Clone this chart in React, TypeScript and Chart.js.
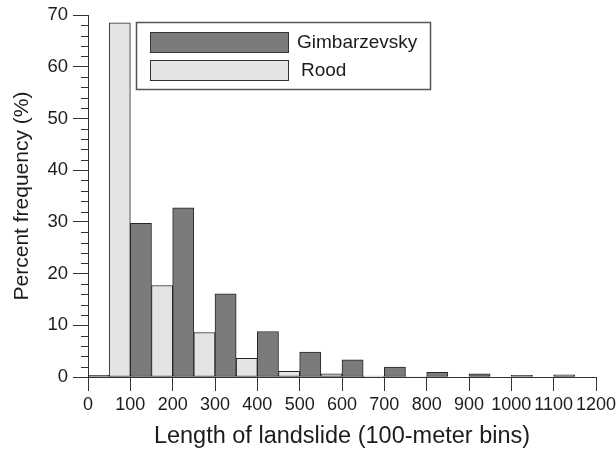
import { useEffect, useRef } from 'react';
import { Chart, registerables } from 'chart.js';

Chart.register(...registerables);

// ---- data ----
const binCenters = [50, 150, 250, 350, 450, 550, 650, 750, 850, 950, 1050, 1150];
const gimbarzevsky = [0.3, 29.7, 32.7, 16.1, 8.8, 4.8, 3.3, 1.9, 0.9, 0.6, 0.3, 0.4];
const rood = [68.5, 17.7, 8.6, 3.6, 1.1, 0.6, 0.2, 0.1, 0, 0, 0, 0];
const seriesNames = ['Gimbarzevsky', 'Rood'];
const xRange = [0, 1200];
const xStep = 100;
const yRange = [0, 70];
const yStep = 10;
const yMinorStep = 2;
const xTitle = 'Length of landslide (100-meter bins)';
const yTitle = 'Percent frequency (%)';

const FONT = "'Liberation Sans', Arial, sans-serif";
const INK = '#1c1c1c';

const minorTicks = {
  id: 'minorTicks',
  afterDraw(chart: any) {
    const ys = chart.scales.y;
    const ctx = chart.ctx;
    const x = chart.chartArea.left;
    ctx.save();
    ctx.strokeStyle = '#333';
    ctx.lineWidth = 1;
    ctx.beginPath();
    for (let v = ys.min; v <= ys.max + 1e-9; v += yMinorStep) {
      if (Math.abs(v % yStep) < 1e-9) continue;
      const y = Math.round(ys.getPixelForValue(v)) + 0.5;
      ctx.moveTo(x - 7, y);
      ctx.lineTo(x, y);
    }
    ctx.stroke();
    ctx.restore();
  },
};

const boxLegend = {
  id: 'boxLegend',
  afterDraw(chart: any) {
    const ctx = chart.ctx;
    const ds = chart.data.datasets;
    const bx = 136.5, by = 22.5, bw = 294, bh = 67;
    ctx.save();
    ctx.fillStyle = '#fff';
    ctx.fillRect(bx, by, bw, bh);
    ctx.strokeStyle = '#555';
    ctx.lineWidth = 1.5;
    ctx.strokeRect(bx, by, bw, bh);
    ctx.font = `19px ${FONT}`;
    ctx.textBaseline = 'middle';
    ctx.textAlign = 'left';
    const rows = [
      { y: 32.5, tx: 297 },
      { y: 60.5, tx: 301 },
    ];
    ds.forEach((d: any, i: number) => {
      const r = rows[i];
      ctx.fillStyle = d.backgroundColor;
      ctx.fillRect(150.5, r.y, 138, 20);
      ctx.strokeStyle = '#333';
      ctx.lineWidth = 1;
      ctx.strokeRect(150.5, r.y, 138, 20);
      ctx.fillStyle = INK;
      ctx.fillText(d.label, r.tx, r.y + 10);
    });
    ctx.restore();
  },
};

export default function App() {
  const ref = useRef<HTMLCanvasElement>(null);
  useEffect(() => {
    document.body.style.margin = '0';
    const canvas = ref.current!;
    const chart = new Chart(canvas, {
      type: 'bar',
      data: {
        datasets: [
          {
            label: seriesNames[0],
            data: binCenters.map((x, i) => ({ x, y: gimbarzevsky[i] })),
            backgroundColor: '#7b7b7b',
            borderColor: '#262626',
            borderWidth: 1,
            borderSkipped: false,
            categoryPercentage: 1,
            barPercentage: 1,
          },
          {
            label: seriesNames[1],
            data: binCenters.map((x, i) => ({ x, y: rood[i] })),
            backgroundColor: '#e4e4e4',
            borderColor: '#262626',
            borderWidth: 1,
            borderSkipped: false,
            categoryPercentage: 1,
            barPercentage: 1,
          },
        ],
      },
      options: {
        animation: false,
        responsive: false,
        devicePixelRatio: 1,
        layout: { padding: { top: 15, right: 20, left: 0, bottom: 0 } },
        plugins: {
          legend: { display: false },
          tooltip: { enabled: false },
        },
        scales: {
          x: {
            type: 'linear',
            min: xRange[0],
            max: xRange[1],
            offset: false,
            ticks: {
              stepSize: xStep,
              autoSkip: false,
              maxRotation: 0,
              minRotation: 0,
              padding: 3,
              color: INK,
              font: { family: FONT, size: 18 },
              callback: (v: any) => String(v),
            },
            grid: {
              drawOnChartArea: false,
              drawTicks: true,
              tickLength: 14,
              tickColor: '#333',
              offset: false,
            },
            border: { color: '#333', width: 1 },
            title: {
              display: true,
              text: xTitle,
              color: INK,
              font: { family: FONT, size: 23.5 },
              padding: { top: 0, bottom: 1 },
            },
            afterFit(scale: any) {
              scale.height = 75;
              scale.paddingLeft = 0;
              scale.paddingRight = 0;
            },
          },
          y: {
            min: yRange[0],
            max: yRange[1],
            ticks: {
              stepSize: yStep,
              padding: 5,
              color: INK,
              font: { family: FONT, size: 18.5 },
              callback: (v: any) => String(v),
            },
            grid: {
              drawOnChartArea: false,
              drawTicks: true,
              tickLength: 15,
              tickColor: '#333',
            },
            border: { color: '#333', width: 1 },
            title: {
              display: true,
              text: yTitle,
              color: INK,
              font: { family: FONT, size: 21 },
              padding: { top: 10, bottom: 0 },
            },
            afterFit(scale: any) {
              scale.width = 88;
              scale.paddingTop = 0;
              scale.paddingBottom = 0;
            },
          },
        },
      } as any,
      plugins: [minorTicks, boxLegend],
    });
    return () => chart.destroy();
  }, []);
  return (
    <div style={{ width: 616, height: 452 }}>
      <canvas ref={ref} width={616} height={452} />
    </div>
  );
}
